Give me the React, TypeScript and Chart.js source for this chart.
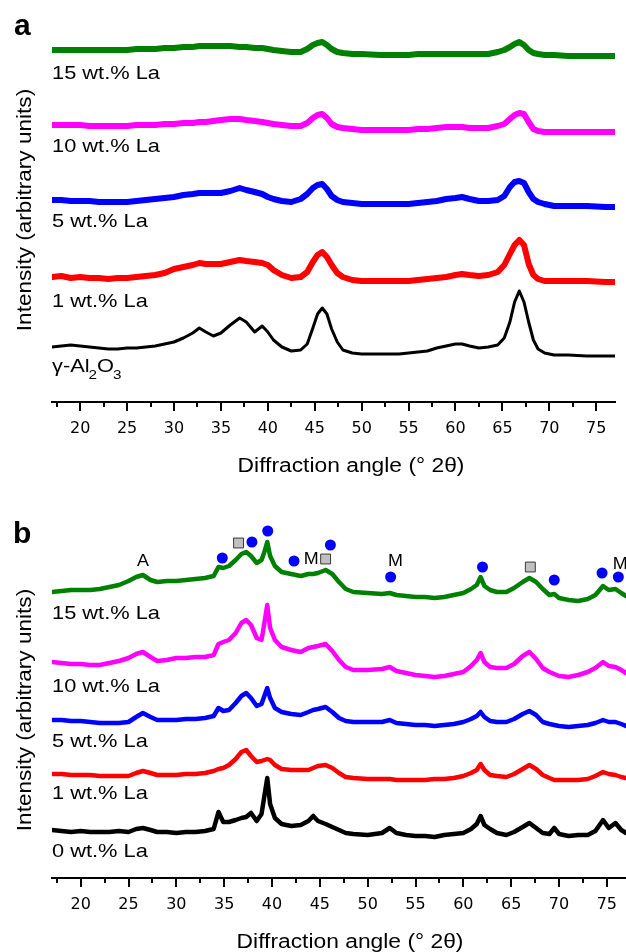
import React, { useEffect, useRef } from 'react';
import { Chart, registerables } from 'chart.js';

Chart.register(...registerables);

// ---------- shared axis ----------
const X_MIN = 17;
const X_MAX = 77;
const TICK_LABELS = [20, 25, 30, 35, 40, 45, 50, 55, 60, 65, 70, 75];
const TICK_MARKS = [17.5, 20, 22.5, 25, 27.5, 30, 32.5, 35, 37.5, 40, 42.5, 45, 47.5, 50, 52.5, 55, 57.5, 60, 62.5, 65, 67.5, 70, 72.5, 75];
const X_TITLE = 'Diffraction angle (° 2θ)';
const Y_TITLE = 'Intensity (arbitrary units)';

// ---------- panel a ----------
const A_X = [17, 18, 19, 20, 21, 22, 23, 24, 25, 26, 27, 28, 29, 30, 31, 32, 32.7, 33.4, 34.2, 35, 36, 37, 37.7, 38.6, 39.4, 40, 40.6, 41.5, 42.5, 43.5, 44.2, 44.8, 45.3, 45.8, 46.3, 46.8, 47.4, 48, 49, 50, 52, 54, 55, 56, 57, 58, 59, 60, 60.7, 61.5, 62.5, 63.5, 64.5, 65.2, 65.8, 66.3, 66.8, 67.3, 67.8, 68.3, 68.8, 69.5, 70.5, 72, 74, 76, 77];
const A_AL2O3 = [55, 56, 57, 56, 55, 54, 53, 53, 54, 54, 55, 56, 58, 60, 64, 69, 74, 70, 66, 69, 77, 84, 80, 70, 76, 70, 62, 55, 51, 52, 58, 74, 88, 94, 88, 73, 60, 52, 49, 48, 48, 48, 49, 50, 51, 54, 56, 58, 58, 56, 54, 55, 57, 64, 80, 100, 111, 100, 80, 62, 53, 49, 47, 47, 46, 46, 46];
const A_LA1 = [125, 126, 124, 125, 124, 124, 123, 124, 124, 125, 126, 127, 129, 133, 135, 137, 139, 138, 138, 138, 140, 142, 141, 140, 139, 137, 132, 127, 124, 125, 130, 140, 147, 150, 145, 137, 129, 125, 122, 121, 121, 121, 121, 122, 123, 124, 125, 127, 128, 127, 126, 127, 130, 137, 148, 157, 162, 157, 138, 127, 123, 121, 121, 121, 121, 120, 120];
const A_LA5 = [202, 202, 201, 201, 201, 200, 200, 200, 200, 201, 202, 203, 204, 205, 207, 208, 209, 209, 209, 209, 211, 214, 212, 210, 208, 205, 203, 201, 200, 203, 208, 214, 217, 218, 213, 206, 202, 200, 199, 198, 198, 198, 198, 199, 200, 201, 203, 204, 205, 203, 201, 201, 202, 206, 215, 220, 221, 219, 210, 203, 200, 198, 196, 196, 196, 195, 195];
const A_LA10 = [277, 277, 277, 277, 276, 276, 276, 276, 276, 277, 277, 277, 278, 278, 279, 279, 280, 280, 281, 282, 283, 283, 282, 281, 280, 279, 278, 277, 276, 276, 279, 284, 287, 288, 284, 278, 275, 274, 273, 272, 272, 272, 272, 273, 273, 274, 275, 275, 275, 274, 274, 274, 276, 278, 283, 287, 289, 288, 280, 273, 271, 270, 270, 270, 270, 270, 270];
const A_LA15 = [352, 352, 352, 352, 352, 352, 352, 352, 352, 353, 353, 353, 354, 354, 355, 355, 356, 356, 356, 356, 356, 355, 355, 354, 354, 353, 352, 351, 350, 350, 353, 357, 359, 360, 357, 353, 350, 349, 348, 348, 347, 347, 347, 348, 348, 348, 348, 348, 348, 348, 348, 348, 350, 352, 355, 358, 360, 357, 352, 349, 348, 347, 347, 346, 346, 346, 346];
const A_Y_MAX = 392;
const A_LABELS = ['15 wt.% La', '10 wt.% La', '5 wt.% La', '1 wt.% La', 'γ-Al2O3'];
const A_LABEL_Y = [330, 257, 182, 102, 37];

// ---------- panel b ----------
const B_X = [17, 18, 19, 20, 21, 22, 23, 24, 25, 25.8, 26.5, 27.3, 28, 29, 30, 31, 32, 33, 33.9, 34.4, 34.9, 35.5, 36.2, 36.8, 37.3, 37.8, 38.4, 38.9, 39.2, 39.5, 39.8, 40.3, 41, 42, 43, 43.8, 44.3, 44.8, 45.6, 46.3, 47, 47.7, 48.5, 50, 51.5, 52.3, 53, 54, 55, 56, 57, 58, 59, 60, 60.8, 61.4, 61.8, 62.2, 62.8, 63.5, 64.5, 65.3, 66.2, 66.9, 67.6, 68.3, 69, 69.5, 70, 71, 72, 73, 73.8, 74.6, 75.2, 75.9, 76.5, 77];
const B_LA0 = [48, 47, 46, 47, 46, 46, 46, 47, 46, 49, 50, 48, 46, 46, 45, 46, 46, 47, 49, 66, 56, 56, 58, 60, 61, 65, 57, 64, 82, 100, 74, 60, 54, 52, 53, 57, 62, 57, 54, 51, 48, 45, 44, 43, 45, 50, 45, 43, 42, 42, 41, 43, 44, 45, 49, 54, 62, 53, 49, 45, 43, 46, 51, 55, 50, 45, 44, 50, 44, 42, 43, 43, 47, 58, 50, 55, 48, 45];
const B_LA1 = [104, 104, 103, 103, 103, 102, 102, 102, 102, 105, 107, 105, 103, 103, 103, 104, 104, 105, 107, 109, 110, 113, 119, 126, 128, 122, 116, 117, 118, 119, 118, 113, 109, 108, 108, 108, 110, 112, 113, 110, 105, 101, 100, 99, 99, 99, 98, 98, 98, 98, 99, 99, 100, 102, 105, 108, 114, 108, 103, 102, 101, 104, 109, 113, 109, 103, 100, 98, 98, 98, 98, 99, 102, 106, 104, 103, 101, 100];
const B_LA5 = [158, 158, 157, 157, 156, 155, 155, 155, 156, 161, 165, 161, 158, 158, 158, 159, 159, 160, 162, 170, 167, 168, 175, 182, 185, 180, 172, 174, 182, 190, 180, 170, 166, 164, 163, 166, 168, 169, 171, 166, 160, 157, 156, 156, 156, 158, 155, 154, 153, 153, 152, 153, 154, 156, 159, 162, 166, 161, 157, 156, 156, 159, 164, 167, 163, 156, 154, 153, 152, 151, 152, 153, 155, 158, 156, 156, 154, 152];
const B_LA10 = [216, 215, 214, 214, 213, 213, 215, 217, 220, 224, 226, 221, 217, 218, 220, 220, 221, 221, 223, 234, 236, 238, 245, 255, 258, 253, 240, 238, 255, 273, 250, 238, 231, 228, 226, 230, 231, 232, 234, 227, 218, 211, 208, 208, 209, 211, 207, 205, 203, 202, 201, 202, 204, 206, 212, 218, 225, 216, 211, 210, 210, 214, 222, 226, 219, 210, 206, 204, 202, 201, 203, 206, 210, 216, 212, 211, 208, 205];
const B_LA15 = [286, 287, 288, 288, 288, 289, 291, 293, 297, 301, 303, 298, 296, 297, 297, 298, 299, 300, 302, 311, 310, 312, 318, 324, 326, 322, 315, 318, 326, 336, 322, 312, 306, 304, 302, 304, 304, 305, 308, 304, 296, 289, 286, 285, 284, 285, 283, 282, 281, 281, 280, 281, 283, 285, 289, 293, 301, 292, 288, 286, 286, 290, 296, 300, 296, 289, 283, 284, 280, 278, 277, 279, 283, 292, 288, 289, 285, 282];
const B_Y_MAX = 378;
const B_LABELS = ['15 wt.% La', '10 wt.% La', '5 wt.% La', '1 wt.% La', '0 wt.% La'];
const B_LABEL_Y = [266, 193, 138, 86, 28];

// phase markers (panel b)
const B_CIRCLE_X = [34.8, 37.9, 39.55, 42.3, 46.1, 52.4, 62.0, 69.5, 74.5, 76.2];
const B_CIRCLE_Y = [320, 336, 347, 317, 333, 301, 311, 298, 305, 301];
const B_SQUARE_X = [36.5, 45.6, 67.0];
const B_SQUARE_Y = [335, 319, 311];
const B_TEXT = ['A', 'M', 'M', 'M'];
const B_TEXT_X = [26.5, 44.1, 52.9, 76.4];
const B_TEXT_Y = [318, 320, 318, 315];

// ---------- styling ----------
const C_GREEN = '#008000';
const C_MAGENTA = '#ff00ff';
const C_BLUE = '#0000ff';
const C_RED = '#ff0000';
const C_BLACK = '#000000';
const FONT = '"Liberation Sans", Arial, Helvetica, sans-serif';
const SX = 1.18;

function sText(ctx: CanvasRenderingContext2D, s: string, x: number, y: number, size: number, opt: any = {}) {
  ctx.save();
  ctx.translate(x, y);
  if (opt.rot) ctx.rotate(opt.rot);
  ctx.scale(opt.sx ?? SX, 1);
  ctx.font = `${opt.bold ? 'bold ' : ''}${size}px ${FONT}`;
  ctx.textAlign = opt.align || 'left';
  ctx.textBaseline = opt.baseline || 'alphabetic';
  ctx.fillStyle = opt.color || '#000';
  ctx.fillText(s, 0, 0);
  ctx.restore();
}

function drawSubLabel(ctx: CanvasRenderingContext2D, s: string, x: number, y: number, size: number) {
  // splits "γ-Al2O3" into normal text and subscript digits
  const parts = s.match(/[^0-9]+|[0-9]+/g) || [];
  let cx = x;
  for (const p of parts) {
    const sub = /^[0-9]+$/.test(p);
    const fs = sub ? size * 0.7 : size;
    ctx.save();
    ctx.font = `${fs}px ${FONT}`;
    const w = ctx.measureText(p).width * SX;
    ctx.restore();
    sText(ctx, p, cx, sub ? y + 7 : y, fs);
    cx += w + (sub ? 0 : -1);
  }
}

type PanelSpec = {
  id: string;
  letter: string;
  x: number[];
  series: { data: number[]; color: string; width: number }[];
  yMax: number;
  labels: string[];
  labelY: number[];
  padding: { left: number; right: number; top: number; bottom: number };
  yTitleCenter: number;
  xTitleX: number;
  xTitleBaseline: number;
  letterPos: [number, number];
  markers: boolean;
};

const LABEL_SIZE = 18.5;

function buildConfig(spec: PanelSpec): any {
  const datasets: any[] = [];
  if (spec.markers) {
    datasets.push({
      data: B_CIRCLE_X.map((x, i) => ({ x, y: B_CIRCLE_Y[i] })),
      showLine: false,
      pointRadius: 5.5,
      pointStyle: 'circle',
      backgroundColor: C_BLUE,
      borderColor: C_BLUE,
      borderWidth: 0,
      clip: false,
    });
    datasets.push({
      data: B_SQUARE_X.map((x, i) => ({ x, y: B_SQUARE_Y[i] })),
      showLine: false,
      pointRadius: 7,
      pointStyle: 'rect',
      backgroundColor: '#c0c0c0',
      borderColor: '#3a3a3a',
      borderWidth: 1,
      clip: false,
    });
  }
  for (const s of spec.series) {
    datasets.push({
      data: spec.x.map((x, i) => ({ x, y: s.data[i] })),
      borderColor: s.color,
      backgroundColor: s.color,
      borderWidth: s.width,
      pointRadius: 0,
      tension: 0,
      fill: false,
      borderJoinStyle: 'round',
      borderCapStyle: 'round',
    });
  }

  const decor = {
    id: 'decor' + spec.id,
    afterDraw(chart: any) {
      const ctx: CanvasRenderingContext2D = chart.ctx;
      const xs = chart.scales.x;
      const ys = chart.scales.y;
      const ca = chart.chartArea;
      // tick marks
      ctx.save();
      ctx.strokeStyle = '#000';
      ctx.lineWidth = 2;
      ctx.beginPath();
      for (const t of TICK_MARKS) {
        const px = Math.round(xs.getPixelForValue(t));
        const len = t % 5 === 0 ? 9 : 5;
        ctx.moveTo(px, ca.bottom);
        ctx.lineTo(px, ca.bottom + len);
      }
      ctx.stroke();
      ctx.restore();
      // series labels
      spec.labels.forEach((lab, i) => {
        const py = ys.getPixelForValue(spec.labelY[i]) + LABEL_SIZE * 0.358;
        if (/\d$/.test(lab) && !/La$/.test(lab)) drawSubLabel(ctx, lab, ca.left, py, LABEL_SIZE);
        else sText(ctx, lab, ca.left, py, LABEL_SIZE);
      });
      // phase text marks
      if (spec.markers) {
        B_TEXT.forEach((t, i) => {
          sText(ctx, t, xs.getPixelForValue(B_TEXT_X[i]), ys.getPixelForValue(B_TEXT_Y[i]) + 16 * 0.358, 16, { align: 'center', sx: 1.12 });
        });
      }
      // axis titles
      sText(ctx, X_TITLE, spec.xTitleX, spec.xTitleBaseline, 19.5, { align: 'center', sx: 1.17 });
      sText(ctx, Y_TITLE, 31, spec.yTitleCenter, 20, { align: 'center', rot: -Math.PI / 2, sx: 1.13 });
      // panel letter
      sText(ctx, spec.letter, spec.letterPos[0], spec.letterPos[1], 30, { bold: true, sx: 1 });
    },
  };

  return {
    type: 'line',
    data: { datasets },
    plugins: [decor],
    options: {
      animation: false,
      responsive: false,
      devicePixelRatio: 1,
      events: [],
      layout: { padding: spec.padding, autoPadding: false },
      plugins: { legend: { display: false }, tooltip: { enabled: false }, title: { display: false } },
      scales: {
        x: {
          type: 'linear',
          position: 'bottom',
          min: X_MIN,
          max: X_MAX,
          afterBuildTicks: (scale: any) => {
            scale.ticks = TICK_LABELS.map((v) => ({ value: v }));
          },
          ticks: {
            autoSkip: false,
            maxRotation: 0,
            color: '#000',
            padding: 0,
            font: { family: '"DejaVu Sans", sans-serif', size: 16, lineHeight: 1.2 },
            callback: (v: any) => String(v),
          },
          grid: { display: false, drawTicks: true, tickLength: 17.4 },
          border: { display: true, color: '#000', width: 2 },
        },
        y: { type: 'linear', display: false, min: 0, max: spec.yMax },
      },
    },
  };
}

const PANEL_A: PanelSpec = {
  id: 'a',
  letter: 'a',
  x: A_X,
  series: [
    { data: A_LA15, color: C_GREEN, width: 6 },
    { data: A_LA10, color: C_MAGENTA, width: 6 },
    { data: A_LA5, color: C_BLUE, width: 6 },
    { data: A_LA1, color: C_RED, width: 6 },
    { data: A_AL2O3, color: C_BLACK, width: 3 },
  ],
  yMax: A_Y_MAX,
  labels: A_LABELS,
  labelY: A_LABEL_Y,
  padding: { left: 52, right: 11, top: 10, bottom: 46.4 },
  yTitleCenter: 210,
  xTitleX: 351,
  xTitleBaseline: 472,
  letterPos: [14, 35],
  markers: false,
};

const PANEL_B: PanelSpec = {
  id: 'b',
  letter: 'b',
  x: B_X,
  series: [
    { data: B_LA15, color: C_GREEN, width: 4.5 },
    { data: B_LA10, color: C_MAGENTA, width: 4.5 },
    { data: B_LA5, color: C_BLUE, width: 4.5 },
    { data: B_LA1, color: C_RED, width: 4.5 },
    { data: B_LA0, color: C_BLACK, width: 4.5 },
  ],
  yMax: B_Y_MAX,
  labels: B_LABELS,
  labelY: B_LABEL_Y,
  padding: { left: 52, right: 0, top: 15, bottom: 37.4 },
  yTitleCenter: 225,
  xTitleX: 350,
  xTitleBaseline: 463,
  letterPos: [13, 58],
  markers: true,
};

function Panel({ spec, top, height }: { spec: PanelSpec; top: number; height: number }) {
  const ref = useRef<HTMLCanvasElement>(null);
  useEffect(() => {
    const chart = new Chart(ref.current as HTMLCanvasElement, buildConfig(spec));
    return () => chart.destroy();
  }, [spec]);
  return (
    <canvas
      ref={ref}
      width={626}
      height={height}
      style={{ position: 'absolute', left: 0, top, width: 626, height, display: 'block' }}
    />
  );
}

export default function App() {
  return (
    <div style={{ position: 'fixed', left: 0, top: 0, width: 626, height: 952, overflow: 'hidden', background: '#fff' }}>
      <Panel spec={PANEL_A} top={0} height={485} />
      <Panel spec={PANEL_B} top={485} height={467} />
    </div>
  );
}
